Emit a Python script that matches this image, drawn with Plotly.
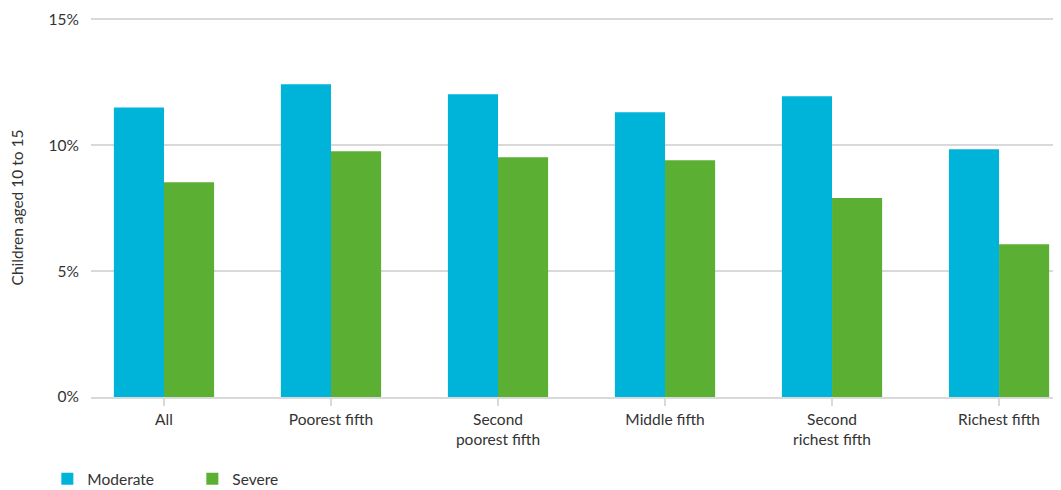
import plotly.graph_objects as go

categories = ["All", "Poorest fifth", "Second<br>poorest fifth", "Middle fifth",
              "Second<br>richest fifth", "Richest fifth"]
moderate = [11.5, 12.42, 12.02, 11.31, 11.94, 9.84]
severe = [8.53, 9.76, 9.52, 9.40, 7.90, 6.07]
y_ticks = [0, 5, 10, 15]
y_tick_labels = ["0%", "5%", "10%", "15%"]

FONT = "Lato"
FS = 15.5
fig = go.Figure()
fig.add_trace(go.Bar(x=categories, y=moderate, name="Moderate", marker_color="#00B3D8",
                     marker_line_width=0))
fig.add_trace(go.Bar(x=categories, y=severe, name="Severe", marker_color="#5BB033",
                     marker_line_width=0))

fig.update_layout(
    width=1053, height=482,
    margin=dict(l=83, r=0, t=10, b=93, autoexpand=False),
    plot_bgcolor="white", paper_bgcolor="white",
    barmode="group", bargap=0.4, bargroupgap=0,
    font=dict(family=FONT, size=FS, color="#333333"),
    legend=dict(orientation="h", x=-0.045, xanchor="left", y=-0.172, yanchor="top",
                font=dict(size=FS, color="#333333"), entrywidth=100, itemwidth=30,
                traceorder="normal"),
    xaxis=dict(range=[-0.437, 5.371], showgrid=False, showline=True, linecolor="#D9D9D9",
               linewidth=2, ticks="outside", ticklen=7, tickcolor="#D9D9D9", tickwidth=2,
               automargin=False, tickfont=dict(size=FS, color="#333333")),
    yaxis=dict(range=[0, 15.05], tickvals=y_ticks, ticktext=y_tick_labels,
               showgrid=True, gridcolor="#D9D9D9", gridwidth=2, zeroline=False,
               ticks="", ticklabelstandoff=11, automargin=False,
               title=dict(text="Children aged 10 to 15", standoff=26,
                          font=dict(size=FS, color="#333333")),
               tickfont=dict(size=FS, color="#333333")),
)
fig.write_html("out.html")
